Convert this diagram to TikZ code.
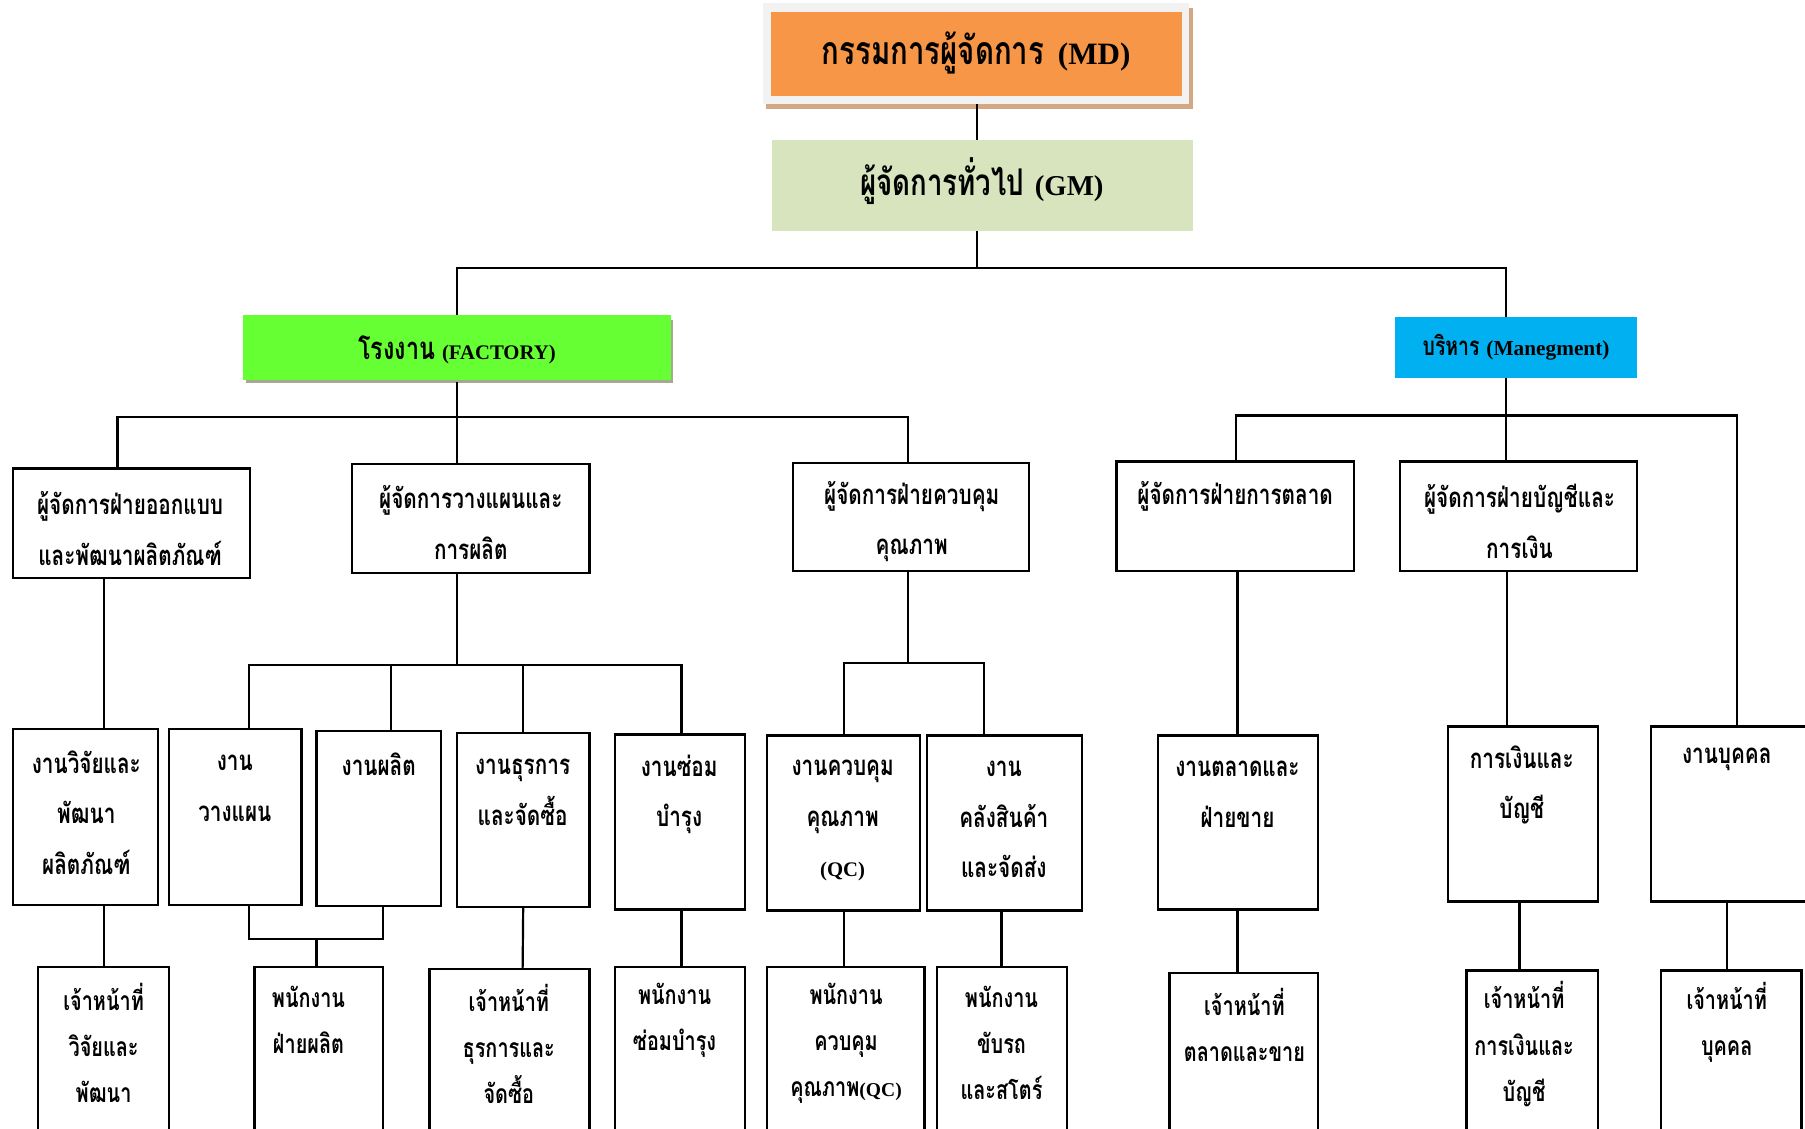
\documentclass[tikz,border=0pt]{standalone}
\usepackage{fontspec}
\newfontfamily\thaif[Script=Thai,FakeStretch=0.75]{Loma}
\newfontfamily\latf{Liberation Serif}
\definecolor{mdorange}{HTML}{F79646}
\definecolor{mdframe}{HTML}{F2F2F2}
\definecolor{mdshadow}{HTML}{D3A883}
\definecolor{gmgreen}{HTML}{D7E4BD}
\definecolor{facgreen}{HTML}{66FF33}
\definecolor{facshadow}{HTML}{A6A88F}
\definecolor{mgtblue}{HTML}{00B0F0}
\newcommand\bx[6][]{\node[box,#1,minimum width={#4-#2},minimum height={#5-#3}] (#6) at ({(#2+#4)/2},{(#3+#5)/2}) {};}
\begin{document}
\begin{tikzpicture}[x=1pt,y=-1pt,
  box/.style={draw=black,line width=2pt,inner sep=0pt,outer sep=0pt,fill=white},
  fillbox/.style={draw=none,inner sep=0pt,outer sep=0pt},
  conn/.style={draw=black,line width=1.9pt},
  txt/.style={align=center,inner sep=0pt,font=\thaif\bfseries\fontsize{24}{44}\selectfont},
  txtb/.style={align=center,inner sep=0pt,font=\thaif\bfseries\fontsize{23}{40}\selectfont}]
\useasboundingbox (0,0) rectangle (1568,980);
\clip (0,0) rectangle (1568,980);
% top decorations
\fill[mdshadow] (665,7) rectangle (1036,95);
\fill[mdframe] (663,3) rectangle (1033,90);
\fill[facshadow] (214,278) rectangle (585,333);
% top boxes
\bx[fillbox,fill=mdorange]{670}{10}{1027}{83}{md}
\bx[fillbox,fill=gmgreen]{671}{122}{1036}{201}{gm}
\bx[fillbox,fill=facgreen]{211}{274}{583}{330}{fac}
\bx[fillbox,fill=mgtblue]{1212}{275}{1422}{328}{mgt}
% row 2
\bx{11}{407}{217}{502}{b1}
\bx{306}{403}{512}{498}{b2}
\bx{689}{402}{894}{496}{b3}
\bx{970}{401}{1176}{496}{b4}
\bx{1216}{401}{1422}{496}{b5}
% row 3
\bx{11}{633}{137}{786}{r1}
\bx{147}{633}{262}{786}{r2}
\bx{275}{635}{383}{787}{r3}
\bx{397}{637}{512}{788}{r4}
\bx{534}{638}{647}{790}{r5}
\bx{666}{639}{799}{791}{r6}
\bx{805}{639}{940}{791}{r7}
\bx{1006}{639}{1145}{790}{r8}
\bx{1258}{631}{1388}{783}{r9}
\bx{1434}{631}{1584}{783}{r10}
% row 4
\bx{33}{840}{147}{990}{l1}
\bx{221}{840}{333}{990}{l2}
\bx{373}{842}{512}{990}{l3}
\bx{534}{840}{647}{990}{l4}
\bx{666}{840}{803}{990}{l5}
\bx{814}{840}{927}{990}{l6}
\bx{1016}{845}{1145}{990}{l7}
\bx{1274}{843}{1388}{990}{l8}
\bx{1443}{843}{1565}{990}{l9}
% connectors: top
\coordinate (jg) at ([xshift=-5pt,yshift=-32pt]gm.south);
\draw[conn] ([yshift=-7pt]md.south) -- ([xshift=-5pt]gm.north);
\draw[conn] ([xshift=-5pt]gm.south) -- (jg);
\draw[conn] (fac.north) |- (jg);
\draw[conn] ([xshift=-9pt]mgt.north) |- (jg);
% factory
\coordinate (jf) at ([yshift=-32pt]fac.south);
\draw[conn] ([yshift=-2pt]fac.south) -- ([xshift=-12pt]b2.north);
\draw[conn] ([xshift=-12pt]b1.north) |- (jf);
\draw[conn] ([xshift=-2.5pt]b3.north) |- (jf);
% management
\coordinate (jm) at ([xshift=-9pt,yshift=-33pt]mgt.south);
\draw[conn] ([xshift=-9pt]mgt.south) -- ([xshift=-11pt]b5.north);
\draw[conn] ([xshift=1pt]b4.north) |- (jm);
\draw[conn] (r10.north) |- (jm);
% row2 -> row3
\draw[conn] ([xshift=-24pt]b1.south) -- ([xshift=16pt]r1.north);
\coordinate (jp2) at ([xshift=-12pt,yshift=-80pt]b2.south);
\draw[conn] ([xshift=-12pt]b2.south) -- (jp2);
\draw[conn] ([xshift=11.5pt]r2.north) |- (jp2);
\draw[conn] ([xshift=11pt]r3.north) |- (jp2);
\draw[conn] (r4.north) |- (jp2);
\draw[conn] ([xshift=1.5pt]r5.north) |- (jp2);
\coordinate (jq) at ([xshift=-2.5pt,yshift=-80pt]b3.south);
\draw[conn] ([xshift=-2.5pt]b3.south) -- (jq);
\draw[conn] ([xshift=0.5pt]r6.north) |- (jq);
\draw[conn] ([xshift=-17.5pt]r7.north) |- (jq);
\draw[conn] ([xshift=2pt]b4.south) -- ([xshift=-0.5pt]r8.north);
\draw[conn] ([xshift=-10pt]b5.south) -- ([xshift=-14pt]r9.north);
% row3 -> row4
\draw[conn] ([xshift=16pt]r1.south) -- (l1.north);
\coordinate (jl2) at ([xshift=-2pt,yshift=24pt]l2.north);
\draw[conn] ([xshift=-2pt]l2.north) -- (jl2);
\draw[conn] ([xshift=11.5pt]r2.south) |- (jl2);
\draw[conn] ([xshift=4pt]r3.south) |- (jl2);
\draw[conn] (r4.south) -- ([xshift=11.5pt]l3.north);
\draw[conn] ([xshift=1.5pt]r5.south) -- ([xshift=1.5pt]l4.north);
\draw[conn] ([xshift=0.5pt]r6.south) -- ([xshift=-1.5pt]l5.north);
\draw[conn] ([xshift=-2.5pt]r7.south) -- ([xshift=-0.5pt]l6.north);
\draw[conn] ([xshift=-0.5pt]r8.south) -- ([xshift=-5.5pt]l7.north);
\draw[conn] ([xshift=-3pt]r9.south) -- ([xshift=-11pt]l8.north);
\draw[conn] ([xshift=-9pt]r10.south) -- ([xshift=-4pt]l9.north);
% top texts
\node[inner sep=0pt] (tmd) at (848,46) {{\thaif\bfseries\fontsize{34}{40}\selectfont กรรมการผู้จัดการ}\hspace{12pt}{\latf\bfseries\fontsize{27}{30}\selectfont (MD)}};
\node[inner sep=0pt] (tgm) at (853,157) {{\thaif\bfseries\fontsize{32}{38}\selectfont ผู้จัดการทั่วไป}\hspace{9pt}{\latf\bfseries\fontsize{25}{28}\selectfont (GM)}};
\node[inner sep=0pt] (tfac) at (397,304) {{\thaif\bfseries\fontsize{27}{32}\selectfont โรงงาน}\hspace{6pt}{\latf\bfseries\fontsize{18}{22}\selectfont (FACTORY)}};
\node[inner sep=0pt] (tmgt) at (1317,302) {{\thaif\bfseries\fontsize{22.5}{26}\selectfont บริหาร}\hspace{6pt}{\latf\bfseries\fontsize{18.5}{22}\selectfont (Manegment)}};
% row 2 texts
\node[txt] (tb1) at (113,459) {ผู้จัดการฝ่ายออกแบบ\\และพัฒนาผลิตภัณฑ์};
\node[txt] (tb2) at (409,454) {ผู้จัดการวางแผนและ\\การผลิต};
\node[txt] (tb3) at (792,453) {ผู้จัดการฝ่ายควบคุม\\คุณภาพ};
\node[txt] (tb4) at (1073,431) {ผู้จัดการฝ่ายการตลาด};
\node[txt] (tb5) at (1320,453) {ผู้จัดการฝ่ายบัญชีและ\\การเงิน};
% row 3 texts
\node[txt] (tr1) at (75,706) {งานวิจัยและ\\พัฒนา\\ผลิตภัณฑ์};
\node[txt] (tr2) at (204,685) {งาน\\วางแผน};
\node[txt] (tr3) at (329,664) {งานผลิต};
\node[txt] (tr4) at (454,688) {งานธุรการ\\และจัดซื้อ};
\node[txt] (tr5) at (590,690) {งานซ่อม\\บำรุง};
\node[txt] (tr6) at (732,713) {งานควบคุม\\คุณภาพ\\{\latf\bfseries\fontsize{18}{22}\selectfont (QC)}};
\node[txt] (tr7) at (872,712) {งาน\\คลังสินค้า\\และจัดส่ง};
\node[txt] (tr8) at (1075,690) {งานตลาดและ\\ฝ่ายขาย};
\node[txt] (tr9) at (1322,682) {การเงินและ\\บัญชี};
\node[txt] (tr10) at (1500,660) {งานบุคคล};
% row 4 texts
\node[txtb] (tl1) at (90,906) {เจ้าหน้าที่\\วิจัยและ\\พัฒนา};
\node[txtb] (tl2) at (268,886) {พนักงาน\\ฝ่ายผลิต};
\node[txtb] (tl3) at (442,907) {เจ้าหน้าที่\\ธุรการและ\\จัดซื้อ};
\node[txtb] (tl4) at (586,886) {พนักงาน\\ซ่อมบำรุง};
\node[txtb] (tl5) at (735,906) {พนักงาน\\ควบคุม\\คุณภาพ{\latf\bfseries\fontsize{17}{20}\selectfont (QC)}};
\node[txtb] (tl6) at (870,906) {พนักงาน\\ขับรถ\\และสโตร์};
\node[txtb] (tl7) at (1081,890) {เจ้าหน้าที่\\ตลาดและขาย};
\node[txtb] (tl8) at (1324,907) {เจ้าหน้าที่\\การเงินและ\\บัญชี};
\node[txtb] (tl9) at (1500,888) {เจ้าหน้าที่\\บุคคล};
\end{tikzpicture}
\end{document}
